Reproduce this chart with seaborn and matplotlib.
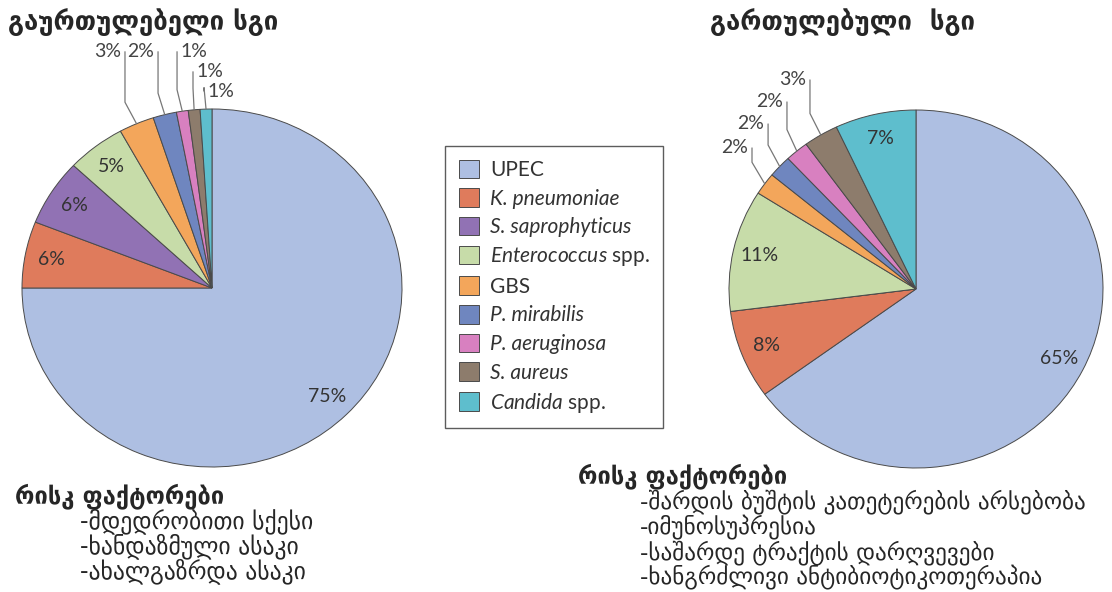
import numpy as np
import matplotlib
matplotlib.use("Agg")
import matplotlib.pyplot as plt
import seaborn as sns

# ---------------- data ----------------
legend_labels = ["UPEC", "K. pneumoniae", "S. saprophyticus",
                 r"$\it{Enterococcus}$ spp.", "GBS", "P. mirabilis",
                 "P. aeruginosa", "S. aureus", r"$\it{Candida}$ spp."]
italic_names = [False, True, True, False, False, True, True, True, False]
uncomplicated = [75, 6, 6, 5, 3, 2, 1, 1, 1]
complicated = [65, 8, 0, 11, 2, 2, 2, 3, 7]

title_left = "გაურთულებელი სგი"
title_right = "გართულებული  სგი"
risk_head = "რისკ ფაქტორები"
risk_left = ["-მდედრობითი სქესი", "-ხანდაზმული ასაკი", "-ახალგაზრდა ასაკი"]
risk_right = ["-შარდის ბუშტის კათეტერების არსებობა", "-იმუნოსუპრესია",
              "-საშარდე ტრაქტის დარღვევები", "-ხანგრძლივი ანტიბიოტიკოთერაპია"]

colors = ["#aebfe2", "#df7b5c", "#9172b4", "#c7dca9", "#f3a65b",
          "#6f86bf", "#d880c0", "#8d7c6c", "#5ebecd"]

sns.set_theme(style="white")
plt.rcParams["font.family"] = ["Lato", "DejaVu Sans"]
plt.rcParams["mathtext.fontset"] = "custom"
plt.rcParams["mathtext.it"] = "Lato:italic"
plt.rcParams["mathtext.rm"] = "Lato"
palette = sns.color_palette(colors)

W, H = 1112, 592
fig = plt.figure(figsize=(W / 100, H / 100), dpi=100)


def px_axes(left, top, width, height):
    return fig.add_axes([left / W, 1 - (top + height) / H, width / W, height / H])


def draw_pie(ax, values, small_labels):
    wedges, _ = ax.pie(values, colors=palette, startangle=90, counterclock=False,
                       radius=1, wedgeprops=dict(edgecolor="#4a4a4a", linewidth=0.7))
    ax.set_aspect("auto")
    ax.set_xlim(-1, 1)
    ax.set_ylim(-1, 1)
    ax.axis("off")
    for i, w in enumerate(wedges):
        if values[i] == 0:
            continue
        mid = np.deg2rad((w.theta1 + w.theta2) / 2)
        txt = f"{values[i]}%"
        if i in small_labels:
            lx, ty, side = small_labels[i]
            ex, ey = np.cos(mid), np.sin(mid)
            ax.plot([ex, lx, lx], [ey, ey + 0.12, ty], color="#777777", lw=0.9,
                    clip_on=False)
            if side == "right":
                ax.text(lx - 0.02, ty, txt, ha="right", va="center", fontsize=14,
                        color="#444444")
            else:
                ax.text(lx + 0.02, ty, txt, ha="left", va="center", fontsize=14,
                        color="#444444")
        else:
            r = 0.86
            ax.text(r * np.cos(mid), r * np.sin(mid), txt, ha="center", va="center",
                    fontsize=14, color="#333333")
    return wedges


# left pie: center (212, 288)
ax1 = px_axes(22, 109, 380, 358)
left_small = {4: (-0.458, 1.32, "right"), 5: (-0.284, 1.32, "right"),
              6: (-0.184, 1.32, "left"), 7: (-0.10, 1.208, "left"),
              8: (-0.042, 1.10, "left")}
wedges = draw_pie(ax1, uncomplicated, left_small)

# right pie: center (916, 289)
ax2 = px_axes(729, 110, 374, 358)
right_small = {4: (-0.877, 0.788, "right"), 5: (-0.791, 0.922, "right"),
               6: (-0.690, 1.045, "right"), 7: (-0.567, 1.168, "right")}
draw_pie(ax2, complicated, right_small)

# titles
fig.text(8 / W, 1 - 22 / H, title_left, fontsize=18.5, fontweight="bold",
         family="DejaVu Sans", va="center", ha="left")
fig.text(710 / W, 1 - 22 / H, title_right, fontsize=18.5, fontweight="bold",
         family="DejaVu Sans", va="center", ha="left")

# risk factors
fig.text(15 / W, 1 - 496 / H, risk_head, fontsize=17, fontweight="bold",
         family="DejaVu Sans", va="center", ha="left")
for k, s in enumerate(risk_left):
    fig.text(80 / W, 1 - (521 + 25 * k) / H, s, fontsize=17, family="DejaVu Sans",
             va="center", ha="left")
fig.text(578 / W, 1 - 476 / H, risk_head, fontsize=17, fontweight="bold",
         family="DejaVu Sans", va="center", ha="left")
for k, s in enumerate(risk_right):
    fig.text(640 / W, 1 - (502 + 25.3 * k) / H, s, fontsize=16.7, family="DejaVu Sans",
             va="center", ha="left")

# legend
leg = fig.legend(wedges, legend_labels, loc="upper left",
                 bbox_to_anchor=(445 / W, 1 - 146 / H), frameon=True, fancybox=False,
                 fontsize=15, handlelength=1.0, handleheight=1.0, labelspacing=0.39,
                 handletextpad=0.5, borderpad=0.65, borderaxespad=0)
leg.get_frame().set_edgecolor("#333333")
leg.get_frame().set_linewidth(1.0)
for t, it in zip(leg.get_texts(), italic_names):
    t.set_color("#333333")
    if it:
        t.set_fontstyle("italic")

fig.savefig("out.png", dpi=100)
